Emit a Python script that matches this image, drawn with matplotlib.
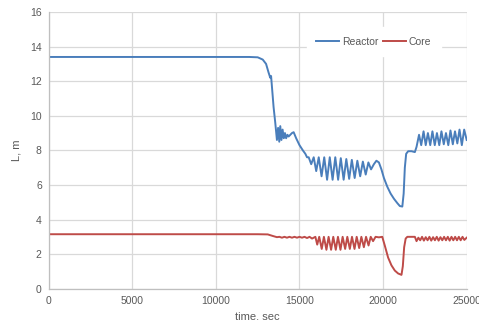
import matplotlib
matplotlib.use("Agg")
import matplotlib.pyplot as plt

plt.rcParams['font.family'] = ['Liberation Sans', 'DejaVu Sans']

reactor_t = [0, 12000, 12500, 12800, 13000, 13150, 13250, 13300, 13350, 13450, 13550, 13650,
             13720, 13790, 13850, 13920, 13990, 14060, 14130, 14200, 14280, 14350, 14450, 14550,
             14650, 14800, 15000, 15200, 15350, 15450, 15550, 15700, 15850, 16000, 16150, 16320,
             16480, 16650, 16810, 16980, 17140, 17310, 17470, 17640, 17800, 17970, 18130, 18300,
             18460, 18630, 18790, 18960, 19120, 19280, 19450, 19600, 19750, 19900, 20050, 20250,
             20450, 20650, 20850, 21000, 21150, 21230, 21300, 21380, 21500, 21700, 21900, 22000,
             22150, 22280, 22420, 22550, 22680, 22820, 22950, 23090, 23220, 23360, 23490, 23630,
             23760, 23900, 24030, 24170, 24300, 24440, 24570, 24710, 24850, 25000]
reactor_L = [13.4, 13.4, 13.38, 13.25, 13.0, 12.5, 12.2, 12.3, 11.7, 10.5, 9.6, 8.6,
             9.3, 8.5, 9.4, 8.6, 9.2, 8.7, 9.0, 8.7, 8.9, 8.8, 8.9, 9.0,
             9.05, 8.7, 8.3, 8.0, 7.8, 7.6, 7.6, 7.2, 7.6, 6.8, 7.6, 6.5,
             7.6, 6.3, 7.6, 6.3, 7.6, 6.3, 7.55, 6.3, 7.5, 6.35, 7.45, 6.4,
             7.4, 6.5, 7.35, 6.6, 7.3, 6.9, 7.2, 7.4, 7.3, 6.9, 6.4, 5.9,
             5.5, 5.2, 4.95, 4.78, 4.75, 5.5, 7.0, 7.8, 7.95, 7.95, 7.9, 8.2,
             8.9, 8.3, 9.1, 8.3, 9.0, 8.3, 9.1, 8.3, 9.0, 8.3, 9.1, 8.35,
             9.0, 8.3, 9.15, 8.35, 9.1, 8.4, 9.2, 8.3, 9.2, 8.6]

core_t = [0, 12500, 13100, 13400, 13650, 13800, 13950, 14100, 14250, 14400, 14550, 14700,
          14850, 15000, 15150, 15300, 15450, 15600, 15750, 15950, 16060, 16180, 16330, 16460,
          16610, 16740, 16890, 17020, 17170, 17300, 17450, 17580, 17730, 17860, 18010, 18140,
          18290, 18420, 18570, 18700, 18850, 18980, 19130, 19260, 19400, 19550, 19750, 19950,
          20100, 20300, 20500, 20700, 20900, 21100, 21180, 21260, 21350, 21450, 21700, 21900,
          22000, 22110, 22220, 22330, 22440, 22550, 22660, 22770, 22880, 22990, 23100, 23210,
          23320, 23430, 23540, 23650, 23760, 23870, 23980, 24090, 24200, 24310, 24420, 24530,
          24640, 24750, 24860, 25000]
core_L = [3.15, 3.15, 3.14, 3.05, 2.98, 3.0, 2.95, 3.0, 2.95, 3.0, 2.95, 3.0,
          2.95, 3.0, 2.95, 3.0, 2.93, 3.0, 2.9, 3.0, 2.55, 3.0, 2.3, 3.0,
          2.25, 3.0, 2.25, 3.0, 2.25, 3.0, 2.25, 3.0, 2.3, 3.0, 2.3, 3.0,
          2.3, 3.0, 2.35, 3.0, 2.4, 3.0, 2.5, 3.0, 2.75, 3.0, 2.97, 3.0,
          2.5, 1.8, 1.35, 1.05, 0.88, 0.8, 1.3, 2.4, 2.9, 3.0, 3.0, 3.0,
          2.75, 2.95, 2.8, 3.0, 2.78, 2.98, 2.8, 3.0, 2.78, 2.98, 2.8, 3.0,
          2.78, 2.98, 2.8, 3.0, 2.8, 3.0, 2.78, 3.0, 2.8, 3.0, 2.8, 3.0,
          2.8, 3.0, 2.82, 2.95]

x_ticks = [0, 5000, 10000, 15000, 20000, 25000]
y_ticks = [0, 2, 4, 6, 8, 10, 12, 14, 16]

fig = plt.figure(figsize=(4.79, 3.2), dpi=100)
ax = fig.add_axes([0.1017, 0.0978, 0.8726, 0.8647])

ax.plot(reactor_t, reactor_L, color='#4a7ebb', lw=1.4, label='Reactor')
ax.plot(core_t, core_L, color='#be4b48', lw=1.4, label='Core')

ax.set_xlim(0, 25000)
ax.set_ylim(0, 16)
ax.set_xticks(x_ticks)
ax.set_yticks(y_ticks)
ax.grid(True, color='#d9d9d9', lw=0.9)
ax.set_axisbelow(True)
for s in ['top', 'right']:
    ax.spines[s].set_visible(False)
for s in ['left', 'bottom']:
    ax.spines[s].set_color('#bfbfbf')
    ax.spines[s].set_linewidth(0.9)
ax.tick_params(length=0, labelsize=7.5, labelcolor='#595959', pad=5)
ax.set_xlabel('time, sec', fontsize=8, color='#595959', labelpad=4)
ax.set_ylabel('L, m', fontsize=8, color='#595959', labelpad=6)

leg = ax.legend(loc='center', bbox_to_anchor=(0.778, 0.893), ncol=2, frameon=True,
                fontsize=7.5, handlelength=2.2, handletextpad=0.3, columnspacing=0.4,
                borderpad=0.9, fancybox=False)
leg.get_frame().set_edgecolor('white')
leg.get_frame().set_facecolor('white')
leg.get_frame().set_alpha(1)
for t in leg.get_texts():
    t.set_color('#595959')

fig.savefig('out.png', dpi=100)
